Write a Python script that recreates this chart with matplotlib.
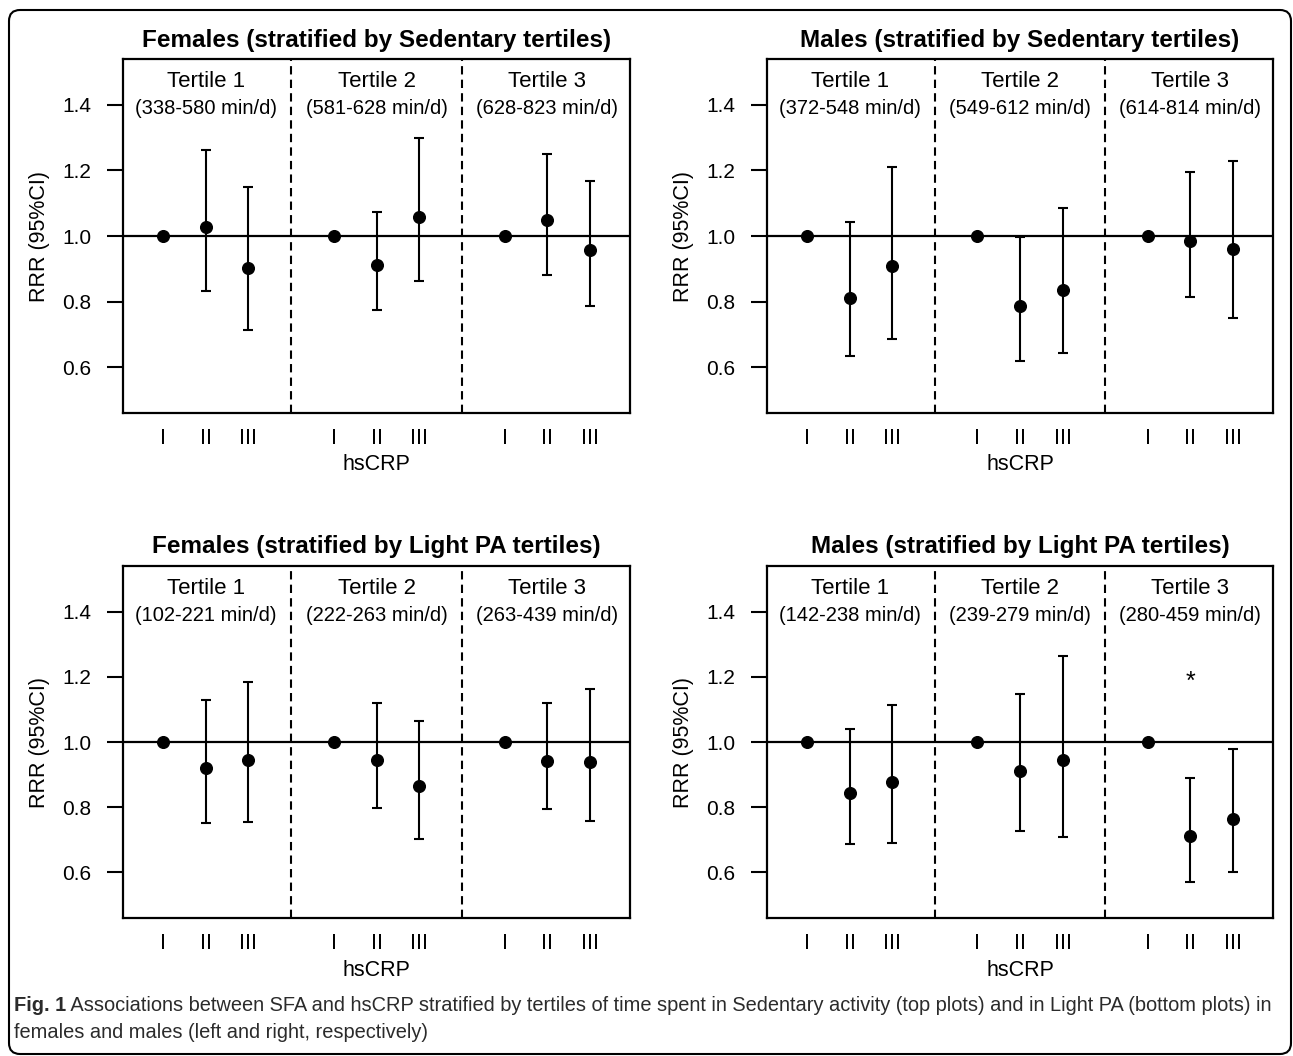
import matplotlib
matplotlib.use("Agg")
import matplotlib.pyplot as plt
from matplotlib.patches import FancyBboxPatch
from matplotlib import font_manager

# ---------------- data ----------------
hscrp_labels = ["I", "II", "III"]
tertile_names = ["Tertile 1", "Tertile 2", "Tertile 3"]

titles = [
    "Females (stratified by Sedentary tertiles)",
    "Males (stratified by Sedentary tertiles)",
    "Females (stratified by Light PA tertiles)",
    "Males (stratified by Light PA tertiles)",
]
ranges = [
    ["(338-580 min/d)", "(581-628 min/d)", "(628-823 min/d)"],
    ["(372-548 min/d)", "(549-612 min/d)", "(614-814 min/d)"],
    ["(102-221 min/d)", "(222-263 min/d)", "(263-439 min/d)"],
    ["(142-238 min/d)", "(239-279 min/d)", "(280-459 min/d)"],
]

# RRR point estimates (I, II, III) for tertile 1, 2, 3
rrr_fem_sed = [1.0, 1.026, 0.903, 1.0, 0.911, 1.058, 1.0, 1.049, 0.957]
low_fem_sed = [1.0, 0.833, 0.712, 1.0, 0.774, 0.864, 1.0, 0.882, 0.785]
up_fem_sed = [1.0, 1.262, 1.150, 1.0, 1.074, 1.298, 1.0, 1.249, 1.169]

rrr_mal_sed = [1.0, 0.810, 0.908, 1.0, 0.785, 0.834, 1.0, 0.985, 0.959]
low_mal_sed = [1.0, 0.633, 0.686, 1.0, 0.619, 0.644, 1.0, 0.814, 0.751]
up_mal_sed = [1.0, 1.043, 1.212, 1.0, 0.998, 1.085, 1.0, 1.194, 1.229]

rrr_fem_lpa = [1.0, 0.919, 0.945, 1.0, 0.945, 0.864, 1.0, 0.942, 0.939]
low_fem_lpa = [1.0, 0.750, 0.756, 1.0, 0.799, 0.703, 1.0, 0.794, 0.759]
up_fem_lpa = [1.0, 1.130, 1.183, 1.0, 1.119, 1.065, 1.0, 1.121, 1.164]

rrr_mal_lpa = [1.0, 0.843, 0.876, 1.0, 0.912, 0.944, 1.0, 0.713, 0.764]
low_mal_lpa = [1.0, 0.687, 0.691, 1.0, 0.727, 0.708, 1.0, 0.570, 0.601]
up_mal_lpa = [1.0, 1.040, 1.114, 1.0, 1.148, 1.263, 1.0, 0.891, 0.977]

positions = [1, 2, 3, 5, 6, 7, 9, 10, 11]

panels = [
    (rrr_fem_sed, low_fem_sed, up_fem_sed),
    (rrr_mal_sed, low_mal_sed, up_mal_sed),
    (rrr_fem_lpa, low_fem_lpa, up_fem_lpa),
    (rrr_mal_lpa, low_mal_lpa, up_mal_lpa),
]
star_panel = 3
star_x = 10
star_y = 1.185

# ---------------- style ----------------
avail = {f.name for f in font_manager.fontManager.ttflist}
main_font = "Liberation Sans" if "Liberation Sans" in avail else "DejaVu Sans"
cap_font = "Liberation Sans Narrow" if "Liberation Sans Narrow" in avail else main_font
plt.rcParams["font.family"] = [main_font, "DejaVu Sans"]

W, H = 1293, 1056
fig = plt.figure(figsize=(W / 100, H / 100), dpi=100)
fig.patch.set_facecolor("white")

# axes boxes in pixels: (left, top, right, bottom)
boxes = [
    (123, 59, 630, 413),
    (767, 59, 1273, 413),
    (123, 566, 630, 918),
    (767, 566, 1273, 918),
]

for i, (box, (est, lo, up)) in enumerate(zip(boxes, panels)):
    l, t, r, b = box
    ax = fig.add_axes([l / W, (H - b) / H, (r - l) / W, (b - t) / H])
    ax.set_xlim(0.06, 11.94)
    ax.set_ylim(0.46, 1.54)
    for s in ax.spines.values():
        s.set_linewidth(1.6)
    ax.axhline(1.0, color="black", lw=1.6, zorder=1)
    for xd in (4, 8):
        ax.axvline(xd, color="black", lw=1.5, linestyle=(0, (4, 2.5)), zorder=1)
    yerr = [[e - lw_ for e, lw_ in zip(est, lo)], [u - e for e, u in zip(est, up)]]
    ax.errorbar(positions, est, yerr=yerr, fmt="o", color="black", ms=8.4,
                elinewidth=1.5, capsize=3.3, capthick=1.5, zorder=3)
    ax.set_yticks([0.6, 0.8, 1.0, 1.2, 1.4])
    ax.set_yticklabels(["0.6", "0.8", "1.0", "1.2", "1.4"])
    ax.tick_params(axis="y", direction="out", length=11.5, width=1.5, pad=11.5, labelsize=15)
    ax.set_xticks(positions)
    ax.set_xticklabels(hscrp_labels * 3)
    ax.tick_params(axis="x", length=0, pad=11, labelsize=15.5)
    ax.set_xlabel("hsCRP", fontsize=15.5)
    ax.xaxis.set_label_coords(0.5, -52 / (b - t))
    ax.xaxis.label.set_va("center")
    ax.set_ylabel("RRR (95%CI)", fontsize=15.5)
    ax.yaxis.set_label_coords(-83 / (r - l), 0.5)
    ax.yaxis.label.set_va("center")
    ax.set_title(titles[i], fontsize=17.5, fontweight="bold", pad=9)
    for k, cx in enumerate([2, 6, 10]):
        ax.text(cx, 1.472, tertile_names[k], ha="center", va="center", fontsize=16)
        ax.text(cx, 1.388, ranges[i][k], ha="center", va="center", fontsize=14.5)
    if i == star_panel:
        ax.text(star_x, star_y, "*", ha="center", va="center", fontsize=18)

# ---------------- caption & frame ----------------
overlay = fig.add_axes([0, 0, 1, 1], facecolor="none")
overlay.set_xlim(0, W)
overlay.set_ylim(0, H)
overlay.axis("off")
frame = FancyBboxPatch((9, 2), 1282, 1044, boxstyle="round,pad=0,rounding_size=11",
                       fc="none", ec="black", lw=1.5, transform=overlay.transData)
overlay.add_patch(frame)

cap_color = "#2b2b2b"
y1 = H - 1011
y2 = H - 1038
t1 = overlay.text(14, y1, "Fig. 1", fontsize=14.4, fontweight="bold", family=cap_font,
                  color=cap_color, va="baseline", ha="left")
overlay.annotate(" Associations between SFA and hsCRP stratified by tertiles of time spent in "
                 "Sedentary activity (top plots) and in Light PA (bottom plots) in",
                 xy=(1, y1), xycoords=(t1, "data"), va="baseline", ha="left",
                 fontsize=14.4, family=cap_font, color=cap_color)
overlay.text(14, y2, "females and males (left and right, respectively)", fontsize=14.4,
             family=cap_font, color=cap_color, va="baseline", ha="left")

fig.savefig("out.png", dpi=100)
